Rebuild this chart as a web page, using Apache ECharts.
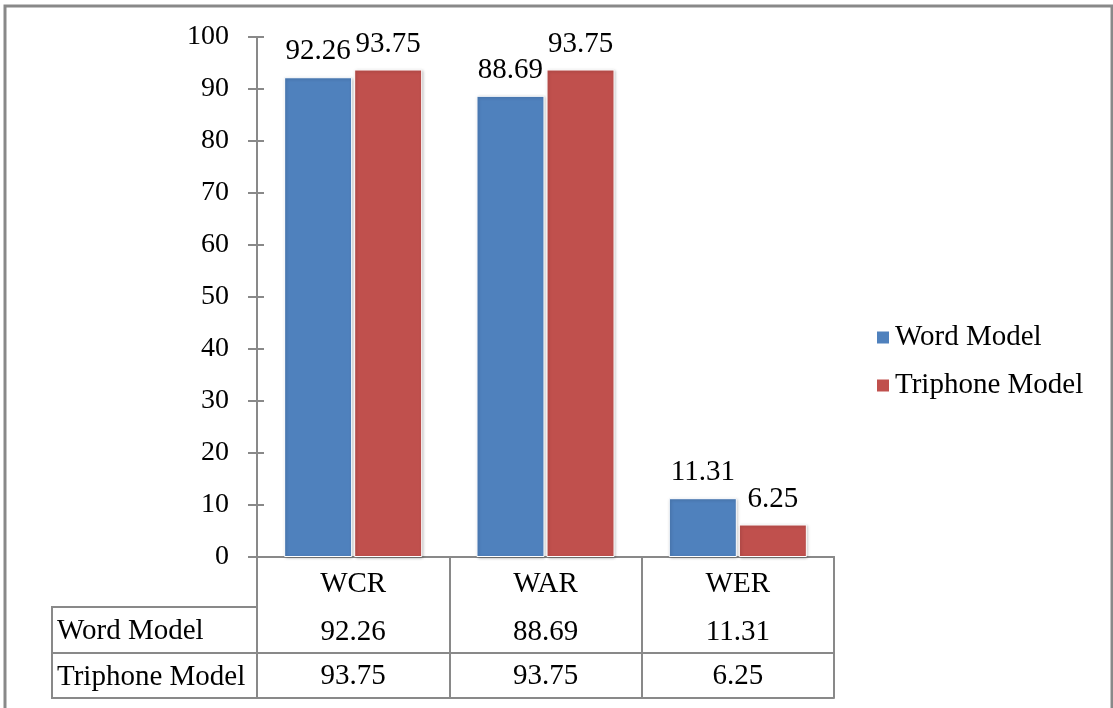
<!DOCTYPE html>
<html>
<head>
<meta charset="utf-8">
<script src="https://cdn.jsdelivr.net/npm/echarts@6/dist/echarts.min.js"></script>
<style>
  html, body { margin: 0; padding: 0; background: #fff; }
  .box1 { width: 1113px; height: 708px; }
</style>
</head>
<body>
<div class="box1"></div>
<script>
// data
var categories = ['WCR', 'WAR', 'WER'];
var seriesNames = ['Word Model', 'Triphone Model'];
var wordModel = [92.26, 88.69, 11.31];
var triphoneModel = [93.75, 93.75, 6.25];
var yTicks = [0, 10, 20, 30, 40, 50, 60, 70, 80, 90, 100];

var serif = 'Liberation Serif';
var fs = 29;   // labels, legend, table
var fsY = 28;  // y axis labels
var gray = '#898989';

var mychart1 = echarts.init(document.querySelector('.box1'));

// table row offsets below the category axis
var rowOffsets = [50, 96, 141];

function fmt(v) {
  return v.toFixed(2);
}

var option1 = {
  animation: false,
  color: ['#4F81BD', '#C0504D'],
  textStyle: { fontFamily: serif },
  grid: {
    left: 257,
    right: 279,
    top: 37,
    bottom: 151
  },
  legend: {
    data: seriesNames,
    orient: 'vertical',
    left: 875,
    top: 323,
    padding: 0,
    icon: 'rect',
    itemWidth: 14,
    itemHeight: 14,
    itemGap: 19,
    textStyle: { fontFamily: serif, fontSize: fs, color: '#000' }
  },
  xAxis: [
    {
      // category row + vertical table lines
      type: 'category',
      data: categories,
      position: 'bottom',
      axisLine: { lineStyle: { color: gray, width: 2 } },
      axisTick: {
        show: true,
        interval: 0,
        length: rowOffsets[2],
        lineStyle: { color: gray, width: 2 }
      },
      axisLabel: { color: '#000', fontFamily: serif, fontSize: fs, margin: 13, interval: 0 }
    },
    {
      type: 'category',
      data: categories,
      position: 'bottom',
      offset: rowOffsets[0],
      axisLine: { lineStyle: { color: gray, width: 2 } },
      axisTick: { show: false },
      axisLabel: {
        color: '#000', fontFamily: serif, fontSize: fs, margin: 11, interval: 0,
        formatter: function (v, i) { return fmt(wordModel[i]); }
      }
    },
    {
      type: 'category',
      data: categories,
      position: 'bottom',
      offset: rowOffsets[1],
      axisLine: { lineStyle: { color: gray, width: 2 } },
      axisTick: { show: false },
      axisLabel: {
        color: '#000', fontFamily: serif, fontSize: fs, margin: 9, interval: 0,
        formatter: function (v, i) { return fmt(triphoneModel[i]); }
      }
    },
    {
      type: 'category',
      data: categories,
      position: 'bottom',
      offset: rowOffsets[2],
      axisLine: { lineStyle: { color: gray, width: 2 } },
      axisTick: { show: false },
      axisLabel: { show: false }
    }
  ],
  yAxis: [
    {
      type: 'value',
      min: yTicks[0],
      max: yTicks[yTicks.length - 1],
      interval: yTicks[1] - yTicks[0],
      axisLine: { show: true, lineStyle: { color: gray, width: 2 } },
      axisTick: { show: true, length: 9, lineStyle: { color: gray, width: 2 } },
      axisLabel: { color: '#000', fontFamily: serif, fontSize: fsY, margin: 28 },
      splitLine: { show: false }
    },
    {
      // inner half of the crossing ticks
      type: 'value',
      position: 'left',
      min: yTicks[0],
      max: yTicks[yTicks.length - 1],
      interval: yTicks[1] - yTicks[0],
      axisLine: { show: false },
      axisTick: { show: true, inside: true, length: 7, lineStyle: { color: gray, width: 2 } },
      axisLabel: { show: false },
      splitLine: { show: false }
    }
  ],
  series: [
    {
      name: seriesNames[0],
      type: 'bar',
      data: wordModel,
      barWidth: 68,
      barGap: '3%',
      itemStyle: {
        borderColor: '#fff',
        borderWidth: 1,
        shadowBlur: 3,
        shadowOffsetX: 1,
        shadowOffsetY: 1,
        shadowColor: 'rgba(0,0,0,0.25)'
      },
      label: {
        show: true,
        position: 'top',
        distance: 11,
        color: '#000',
        fontFamily: serif,
        fontSize: fs,
        formatter: function (p) { return fmt(p.value); }
      }
    },
    {
      name: seriesNames[1],
      type: 'bar',
      data: triphoneModel,
      barWidth: 68,
      barGap: '3%',
      itemStyle: {
        borderColor: '#fff',
        borderWidth: 1,
        shadowBlur: 3,
        shadowOffsetX: 1,
        shadowOffsetY: 1,
        shadowColor: 'rgba(0,0,0,0.25)'
      },
      label: {
        show: true,
        position: 'top',
        distance: 11,
        color: '#000',
        fontFamily: serif,
        fontSize: fs,
        formatter: function (p) { return fmt(p.value); }
      }
    }
  ],
  graphic: [
    // outer chart border
    {
      type: 'rect',
      shape: { x: 5, y: 6, width: 1107, height: 720 },
      style: { fill: 'none', stroke: gray, lineWidth: 3 },
      silent: true
    },
    // row header column of the data table
    {
      type: 'rect',
      shape: { x: 52, y: 607, width: 205, height: 91 },
      style: { fill: 'none', stroke: gray, lineWidth: 2 },
      silent: true
    },
    {
      type: 'line',
      shape: { x1: 52, y1: 653, x2: 257, y2: 653 },
      style: { stroke: gray, lineWidth: 2 },
      silent: true
    },
    {
      type: 'text',
      x: 57,
      y: 631,
      style: { text: seriesNames[0], font: fs + 'px ' + serif, fill: '#000', verticalAlign: 'middle' },
      silent: true
    },
    {
      type: 'text',
      x: 57,
      y: 677,
      style: { text: seriesNames[1], font: fs + 'px ' + serif, fill: '#000', verticalAlign: 'middle' },
      silent: true
    }
  ]
};
mychart1.setOption(option1);
window.addEventListener('resize', function () {
  mychart1.resize();
});
</script>
</body>
</html>
